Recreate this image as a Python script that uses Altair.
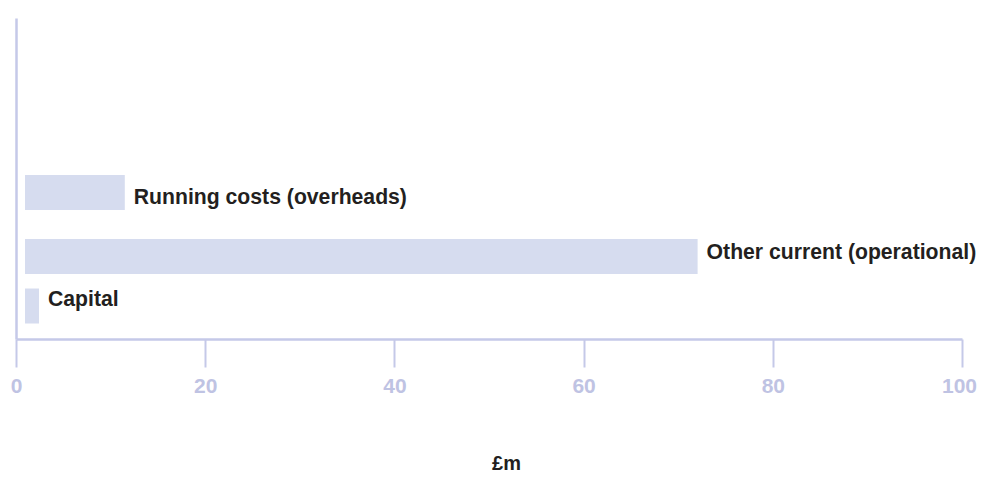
import altair as alt
import pandas as pd

# ---- data ----
categories = ["Running costs (overheads)", "Other current (operational)", "Capital"]
values = [10.55, 71.1, 1.48]          # £m
x_ticks = [0, 20, 40, 60, 80, 100]
axis_title = "£m"

# ---- layout (vertical slots on a 0-10 scale, not data) ----
bar_slot = [4.55, 2.49, 0.9]
label_slot = [4.37, 2.59, 1.09]

df = pd.DataFrame({
    "category": categories,
    "value": values,
    "bar_slot": bar_slot,
    "label_slot": label_slot,
})

AXIS_COL = "#c5c9e8"
LABEL_COL = "#bfc3e3"
BAR_COL = "#d6dcef"
TEXT_COL = "#231f20"
FONT = "Liberation Sans"

x_scale = alt.Scale(domain=[0, 100], nice=False)

x_enc = alt.X(
    "value:Q",
    scale=x_scale,
    axis=alt.Axis(
        values=x_ticks,
        grid=False,
        domainColor=AXIS_COL,
        domainWidth=2.5,
        tickColor=AXIS_COL,
        tickWidth=2,
        tickSize=28,
        labelColor=LABEL_COL,
        labelFont=FONT,
        labelFontSize=21,
        labelFontWeight="bold",
        labelPadding=8,
        labelFlush=False,
        labelOffset={"expr": "datum.value == 100 ? -3 : 0"},
        title=axis_title,
        titleFont=FONT,
        titleFontSize=20,
        titleFontWeight="bold",
        titleColor=TEXT_COL,
        titleX=490,
        titleY=124,
        titleAlign="center",
        titleBaseline="middle",
    ),
)

y_scale = alt.Scale(domain=[0, 10], nice=False)

bars = alt.Chart(df).mark_bar(
    orient="horizontal", height=35, color=BAR_COL, xOffset=9, x2Offset=9
).encode(
    x=x_enc,
    x2=alt.datum(0),
    y=alt.Y(
        "bar_slot:Q",
        scale=y_scale,
        axis=alt.Axis(
            grid=False,
            ticks=False,
            labels=False,
            title=None,
            domainColor=AXIS_COL,
            domainWidth=2.5,
        ),
    ),
)

labels = alt.Chart(df).mark_text(
    align="left",
    baseline="middle",
    dx=18,
    font=FONT,
    fontSize=21.2,
    fontWeight="bold",
    color=TEXT_COL,
).encode(
    x=alt.X("value:Q", scale=x_scale),
    y=alt.Y("label_slot:Q", scale=y_scale),
    text="category:N",
)

chart = (
    alt.layer(bars, labels)
    .properties(
        width=946,
        height=321,
        background="white",
        autosize=alt.AutoSizeParams(type="none"),
        padding={"left": 8, "top": 10, "right": 15, "bottom": 140},
    )
    .configure_view(strokeWidth=0, stroke=None)
)

chart.save("out.html", embed_options={"renderer": "svg", "actions": False})
